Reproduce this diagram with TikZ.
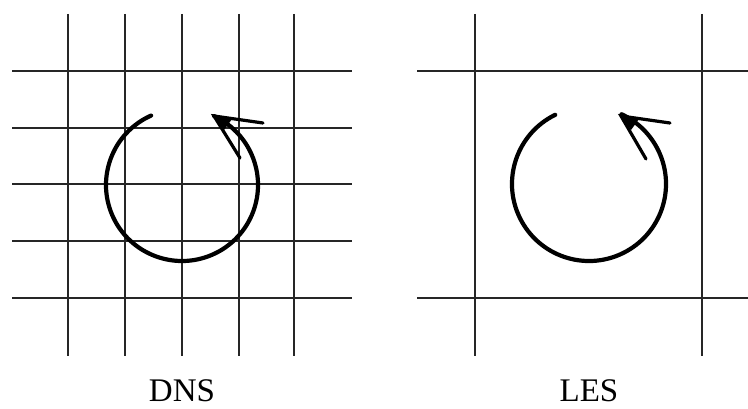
\documentclass[tikz,border=0pt]{standalone}
\usepackage{fontspec}
\setmainfont{Liberation Serif}
\begin{document}
\begin{tikzpicture}[x=1pt,y=-1pt,
  gridline/.style={line width=1.4pt,black!85},
  vortex/.style={line width=4.2pt,line cap=round,line join=round},
  barb/.style={line width=3.2pt,line cap=round,line join=miter},
  lbl/.style={font=\fontsize{33}{33}\selectfont,inner sep=0pt}]
\useasboundingbox (0,0) rectangle (748,409);
% DNS grid
\foreach \x in {68,125,182,239,294} \draw[gridline] (\x,14) -- (\x,356);
\foreach \y in {71,128,184,241,298} \draw[gridline] (12,\y) -- (352,\y);
% DNS vortex
\coordinate (c1) at (182,185);
\draw[vortex] ([shift={(-114:76)}]c1) arc[start angle=-114,end angle=-425,radius=76];
\coordinate (t1) at (214,116);
\draw[barb] (263,123) -- (t1) -- (240,158);
\fill (t1) -- (232,119) -- (224,130) -- cycle;
\node[lbl] (dns) at (182,391) {DNS};
% LES grid
\foreach \x in {475,702} \draw[gridline] (\x,14) -- (\x,356);
\foreach \y in {71,298} \draw[gridline] (417,\y) -- (748,\y);
% LES vortex
\coordinate (c2) at (589,184);
\draw[vortex] ([shift={(-116:77)}]c2) arc[start angle=-116,end angle=-425,radius=77];
\coordinate (t2) at (621,116);
\draw[barb] (670,123) -- (t2) -- (646,159);
\fill (t2) -- (639,119) -- (631,130) -- cycle;
\node[lbl] (les) at (589,391) {LES};
\end{tikzpicture}
\end{document}
